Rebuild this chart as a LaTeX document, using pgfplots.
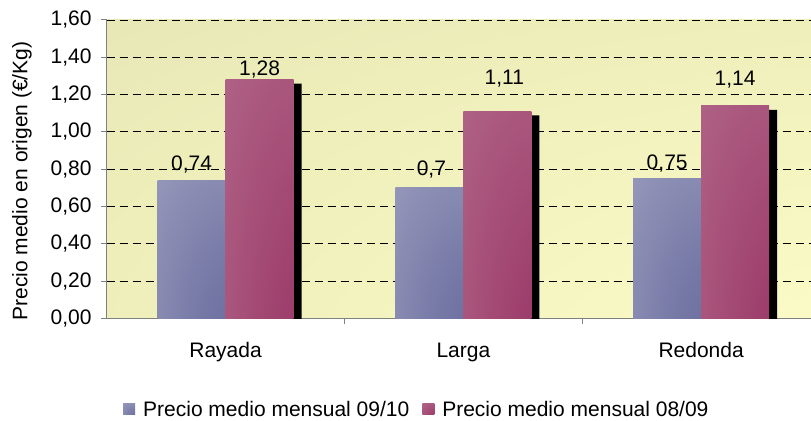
\documentclass[border=0pt]{standalone}
\usepackage{fontspec}
\setmainfont{Liberation Sans}
\usepackage{pgfplots}
\pgfplotsset{compat=1.18}
\usepackage{pgfplotstable}

\pgfdeclareradialshading{bgshade}{\pgfpoint{50bp}{-50bp}}{rgb(0bp)=(1,1,0.8); rgb(25bp)=(0.98,0.98,0.78); rgb(60bp)=(0.93,0.93,0.73); rgb(95bp)=(0.867,0.867,0.69); rgb(150bp)=(0.86,0.86,0.68)}
\pgfdeclareradialshading{blueshade}{\pgfpoint{50bp}{-50bp}}{rgb(0bp)=(0.39,0.39,0.59); rgb(30bp)=(0.46,0.47,0.65); rgb(65bp)=(0.59,0.60,0.73); rgb(100bp)=(0.61,0.62,0.75)}
\pgfdeclareradialshading{pinkshade}{\pgfpoint{50bp}{-50bp}}{rgb(0bp)=(0.57,0.16,0.37); rgb(30bp)=(0.63,0.27,0.44); rgb(65bp)=(0.69,0.39,0.53); rgb(100bp)=(0.71,0.41,0.55)}

\pgfplotstableread{
x y lab dy dx
0 0.74 0,74 10 0
1 0.70 0,7 12 2
2 0.75 0,75 9 0
}\tblA
\pgfplotstableread{
x y lab dy dx
0 1.28 1,28 4 0
1 1.11 1,11 27 7
2 1.14 1,14 20 0
}\tblB

\def\f{\fontsize{21bp}{25bp}\selectfont}

\pgfplotsset{
  lbls/.style={
    nodes near coords,
    point meta=explicit symbolic,
    visualization depends on={\thisrow{dy} \as \dy},
    visualization depends on={\thisrow{dx} \as \dx},
    every node near coord/.append style={font=\f, anchor=base, inner sep=0pt, yshift=\dy bp, xshift=\dx bp, text=black},
  },
  blue/.style={shade, shading=blueshade, draw=none, bar shift=-0.14286, lbls,
    legend image code/.code={\shade[shading=blueshade] (0bp,-5bp) rectangle (12bp,6bp);}},
  pink/.style={shade, shading=pinkshade, draw=none, bar shift=0.14286, lbls,
    legend image code/.code={\shade[shading=pinkshade] (0bp,-5bp) rectangle (12bp,6bp);}},
  cat0/.style={restrict x to domain=-0.1:0.1},
  cat1/.style={restrict x to domain=0.9:1.1},
  cat2/.style={restrict x to domain=1.9:2.1},
}

\begin{document}
\begin{tikzpicture}
\useasboundingbox (-106.7bp,-102.5bp) rectangle (704.3bp,318.5bp);
\begin{axis}[
  at={(0,0)}, anchor=south west,
  scale only axis, width=704.3bp, height=298.5bp,
  xmin=-0.5, xmax=2.462, ymin=0, ymax=1.6,
  axis x line*=bottom, axis y line*=left,
  axis line style={draw=gray, line width=1bp},
  axis background/.style={shade, shading=bgshade},
  ybar, bar width=0.2857,
  xtick={0,1,2}, xticklabels={Rayada,Larga,Redonda},
  xtick style={draw=none},
  extra x ticks={0.5,1.5}, extra x tick labels={},
  extra x tick style={xtick style={draw=gray, line width=1bp}, major tick length=5bp},
  ytick={0,0.2,...,1.6},
  ytick style={draw=gray, line width=1bp},
  major tick length=6bp,
  tick align=outside,
  ymajorgrids,
  major grid style={draw=black, line width=0.9bp, dash pattern=on 8bp off 5bp},
  /pgf/number format/assume math mode=true,
  yticklabel={\pgfmathprintnumber[fixed, fixed zerofill, precision=2, use comma]{\tick}},
  tick label style={font=\f, inner sep=0pt},
  yticklabel style={xshift=-9bp},
  xticklabel style={anchor=base, yshift=-33bp},
  ylabel={Precio medio en origen (€/Kg)},
  ylabel style={font=\f, at={(axis description cs:-0.1203,0.4606)}, anchor=center},
  legend style={at={(axis description cs:0.0231,-0.3065)}, anchor=west, draw=none, fill=none, font=\f, legend columns=2, inner sep=0pt, nodes={inner sep=0pt}, /tikz/every odd column/.append style={column sep=8bp}, /tikz/every even column/.append style={column sep=13bp}},
]
\addplot[blue, cat0] table[x=x, y=y, meta=lab] {\tblA};
\addlegendentry{Precio medio mensual 09/10}
\addplot[blue, cat1, forget plot] table[x=x, y=y, meta=lab] {\tblA};
\addplot[blue, cat2, forget plot] table[x=x, y=y, meta=lab] {\tblA};
\addplot[fill=black, draw=none, bar shift=0.14286, xshift=8bp, yshift=-4bp, forget plot]
  table[x=x, y=y] {\tblB};
\addplot[pink, cat0] table[x=x, y=y, meta=lab] {\tblB};
\addlegendentry{Precio medio mensual 08/09}
\addplot[pink, cat1, forget plot] table[x=x, y=y, meta=lab] {\tblB};
\addplot[pink, cat2, forget plot] table[x=x, y=y, meta=lab] {\tblB};
\end{axis}
\end{tikzpicture}
\end{document}
